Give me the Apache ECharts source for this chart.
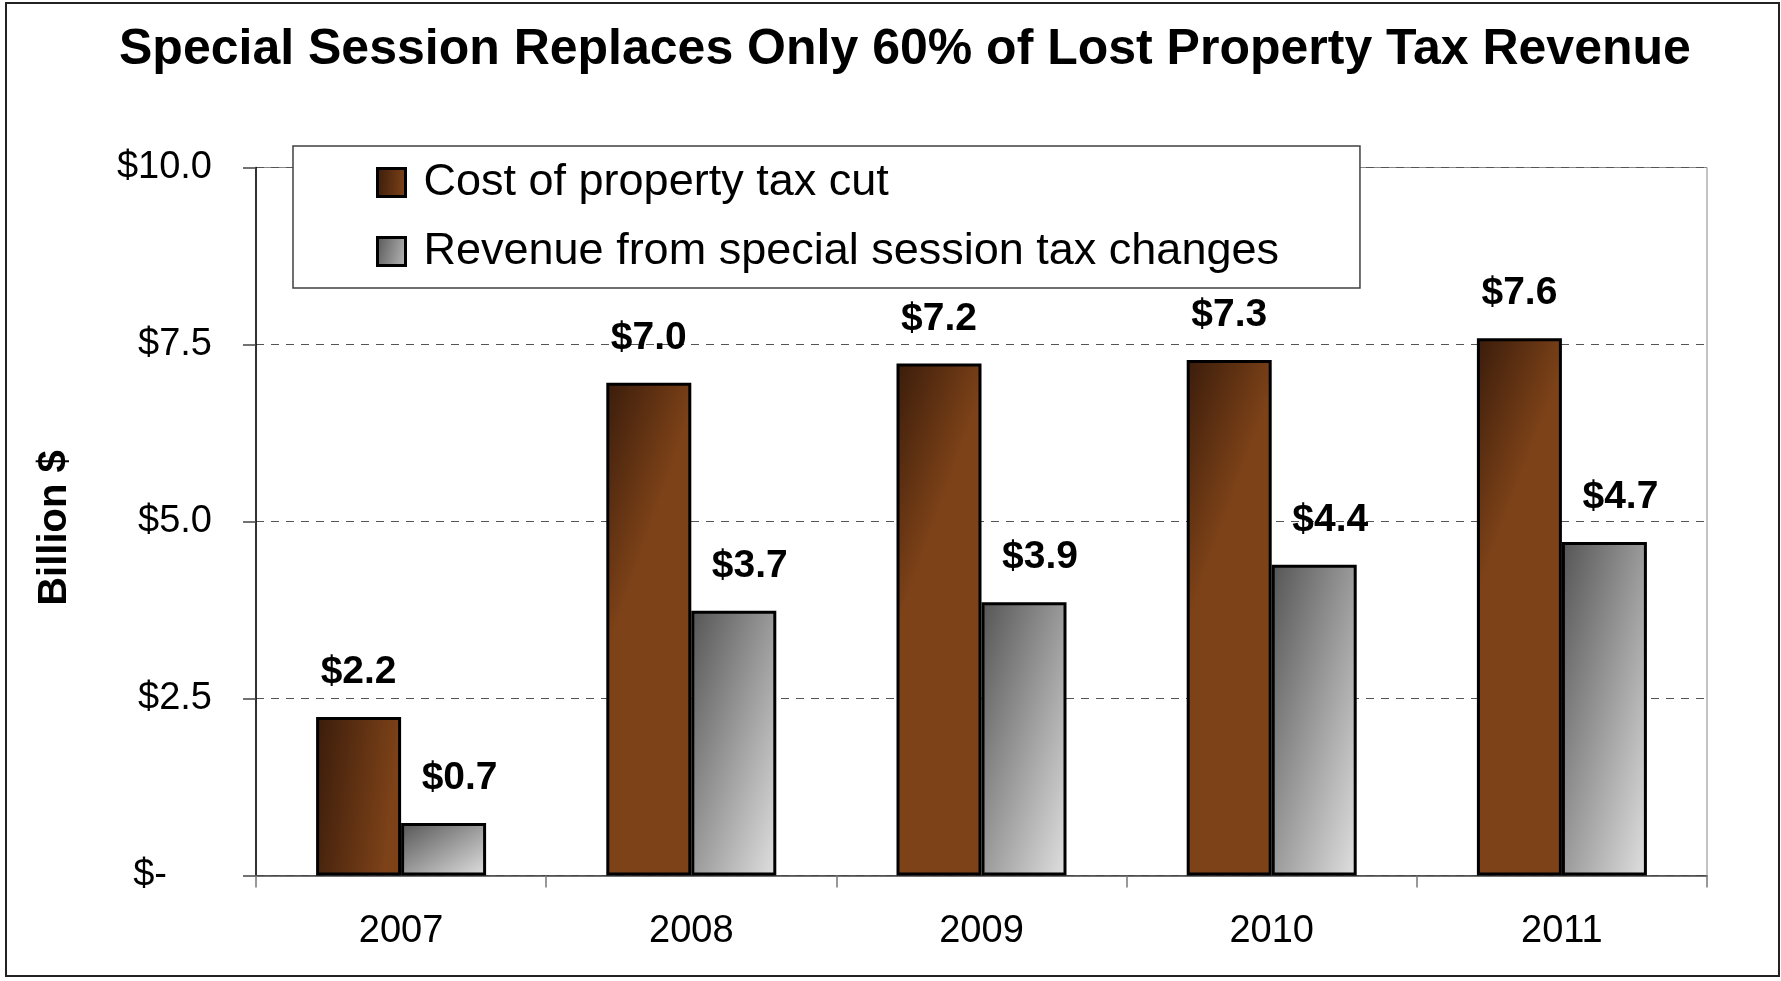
<!DOCTYPE html>
<html>
<head>
<meta charset="utf-8">
<script src="https://cdn.jsdelivr.net/npm/echarts@6/dist/echarts.min.js"></script>
<style>
  html, body { margin: 0; padding: 0; background: #fff; }
  #main { width: 1781px; height: 981px; }
</style>
</head>
<body>
<div id="main"></div>
<script>
// 数据（单位：十亿美元）
const years = ['2007', '2008', '2009', '2010', '2011'];
const costOfCut = [2.24, 6.96, 7.23, 7.28, 7.59];
const sessionRevenue = [0.74, 3.74, 3.86, 4.39, 4.71];
const yTickLabels = ['$-', '$2.5', '$5.0', '$7.5', '$10.0'];
const seriesNames = ['Cost of property tax cut', 'Revenue from special session tax changes'];

const font = 'Liberation Sans, Arial, sans-serif';
const plotH = 708;
const barW = 85;

const chart = echarts.init(document.getElementById('main'));

const brown = new echarts.graphic.LinearGradient(0, 0, 1, 0.06, [
  { offset: 0, color: '#3a1c0b' },
  { offset: 1, color: '#7d4218' }
]);
const greyStops = [
  { offset: 0, color: '#555555' },
  { offset: 1, color: '#e0e0e0' }
];
// 灰色柱：左上深、右下浅，右上与左下同一色阶
const greyFill = (v) => {
  const h = v / 10 * plotH;
  const d = h * h + barW * barW;
  return new echarts.graphic.LinearGradient(0, 0, 2 * h * h / d, 2 * barW * barW / d, greyStops);
};

const fmtLabel = (p) => '$' + p.value.toFixed(1);

const barLabel = {
  show: true,
  position: 'top',
  distance: 25,
  fontFamily: font,
  fontSize: 39,
  fontWeight: 'bold',
  color: '#000',
  formatter: fmtLabel
};

const option = {
  backgroundColor: '#fff',
  animation: false,
  title: {
    text: 'Special Session Replaces Only 60% of Lost Property Tax Revenue',
    left: 114,
    top: 20,
    textStyle: {
      fontFamily: font,
      fontSize: 50,
      fontWeight: 'bold',
      color: '#000'
    }
  },
  legend: {
    orient: 'vertical',
    left: 293,
    top: 146,
    padding: [14, 81, 14, 83],
    icon: 'rect',
    itemWidth: 28,
    itemHeight: 28,
    itemGap: 24,
    backgroundColor: '#fff',
    borderColor: '#404040',
    borderWidth: 1.5,
    itemStyle: { borderColor: '#000', borderWidth: 3 },
    textStyle: {
      fontFamily: font,
      fontSize: 45,
      lineHeight: 44,
      color: '#000',
      padding: [0, 0, 0, 13]
    },
    data: [
      { name: seriesNames[0], itemStyle: { color: brown } },
      { name: seriesNames[1], itemStyle: { color: greyFill(2.4) } }
    ]
  },
  grid: {
    left: 256,
    right: 74,
    top: 167.5,
    bottom: 105.5,
    show: true,
    borderColor: '#888',
    borderWidth: 1
  },
  xAxis: {
    type: 'category',
    data: years,
    axisLine: { lineStyle: { color: '#444', width: 1.5 } },
    axisTick: { show: true, length: 12, lineStyle: { color: '#777', width: 1.5 } },
    axisLabel: {
      margin: 37,
      fontFamily: font,
      fontSize: 38,
      color: '#000'
    }
  },
  yAxis: {
    type: 'value',
    min: 0,
    max: 10,
    interval: 2.5,
    name: 'Billion $',
    nameLocation: 'middle',
    nameGap: 181,
    nameTextStyle: {
      fontFamily: font,
      fontSize: 40,
      fontWeight: 'bold',
      color: '#000',
      padding: [0, 13, 0, 0]
    },
    axisLine: { show: true, lineStyle: { color: '#000', width: 1.5 } },
    axisTick: { show: true, length: 13, lineStyle: { color: '#444', width: 1.5 } },
    axisLabel: {
      margin: 44,
      fontFamily: font,
      fontSize: 38,
      color: '#000',
      formatter: (v) => {
        const s = yTickLabels[Math.round(v / 2.5)];
        return v === 0 ? '{z|' + s + '}' : s;
      },
      rich: {
        z: { fontFamily: font, fontSize: 38, color: '#000', padding: [0, 45, 0, 0] }
      }
    },
    splitLine: {
      show: true,
      lineStyle: { color: '#555', type: [8, 7], width: 1 }
    }
  },
  series: [
    {
      name: seriesNames[0],
      type: 'bar',
      data: costOfCut,
      barWidth: barW,
      barGap: '0%',
      itemStyle: { color: brown, borderColor: '#000', borderWidth: 3 },
      label: barLabel
    },
    {
      name: seriesNames[1],
      type: 'bar',
      data: sessionRevenue.map((v) => ({ value: v, itemStyle: { color: greyFill(v) } })),
      barWidth: barW,
      barGap: '0%',
      itemStyle: { color: '#999', borderColor: '#000', borderWidth: 3 },
      label: Object.assign({}, barLabel, { offset: [16, 0] })
    }
  ],
  graphic: [
    {
      type: 'rect',
      silent: true,
      z: -1,
      shape: { x: 6, y: 3, width: 1773, height: 973 },
      style: { fill: 'none', stroke: '#222', lineWidth: 2 }
    }
  ]
};

chart.setOption(option);
</script>
</body>
</html>
